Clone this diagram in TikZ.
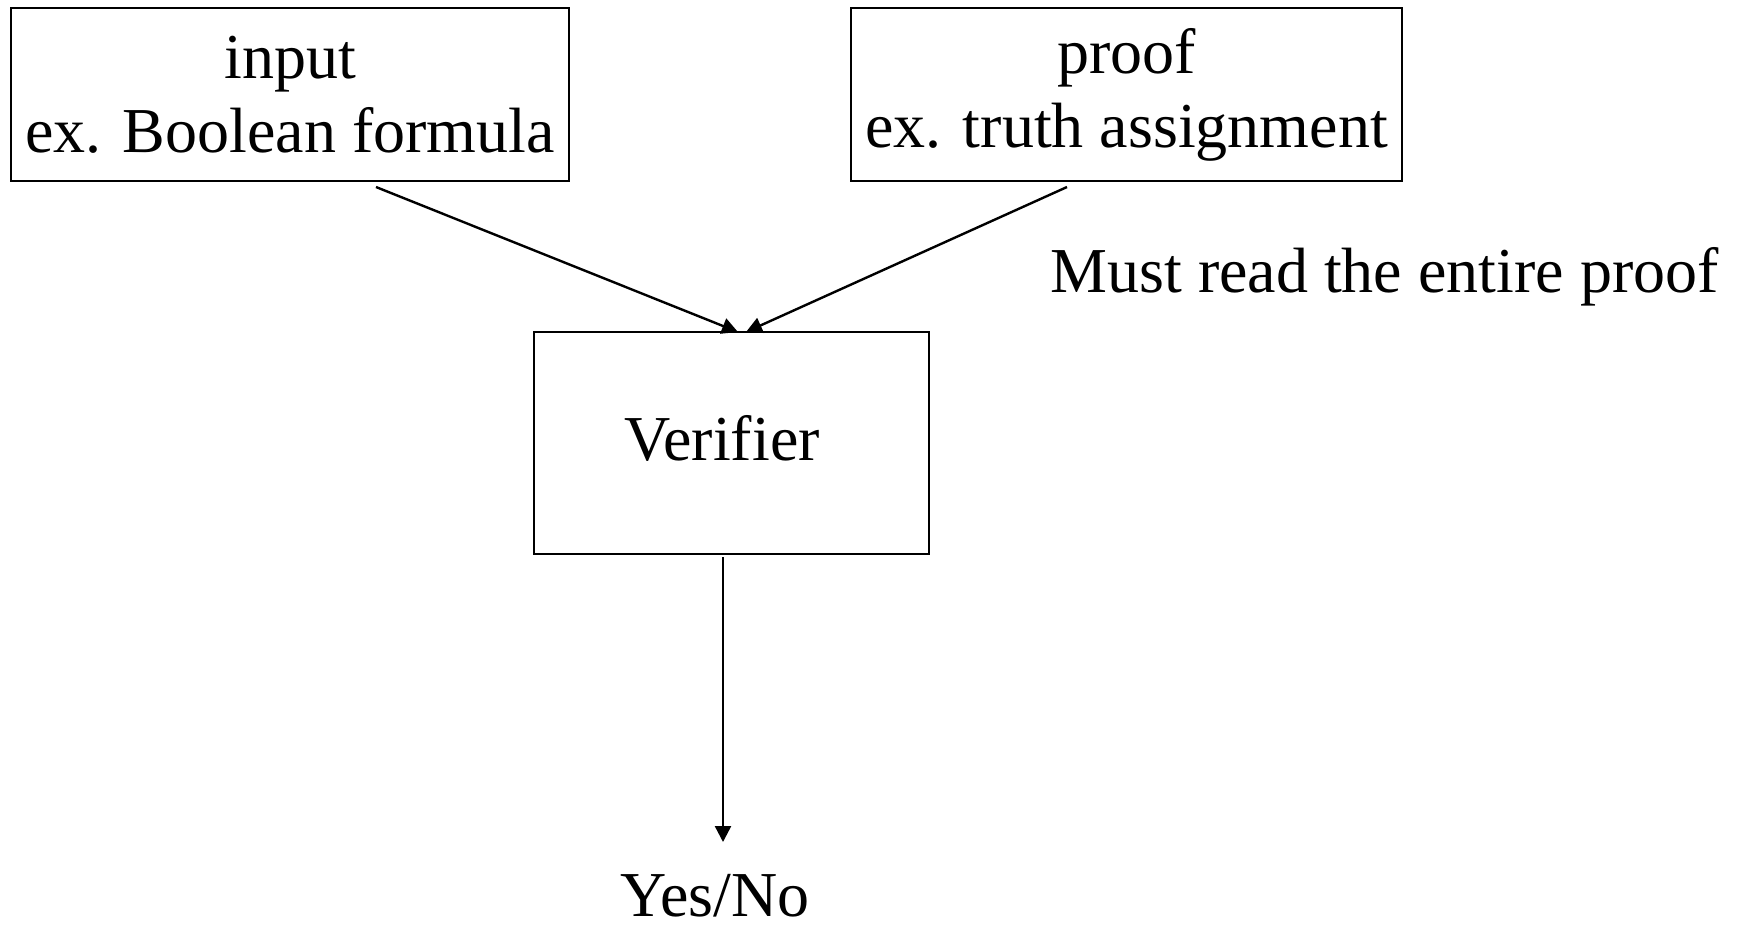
\documentclass[tikz,border=0pt]{standalone}
\usepackage{fontspec}
\setmainfont{Liberation Serif}
\usetikzlibrary{arrows.meta}
\tikzset{
  box/.style={draw, line width=1.2pt, inner sep=0pt, align=center,
    font=\fontsize{32}{37}\selectfont},
  lbl/.style={inner sep=0pt, font=\fontsize{32}{37}\selectfont},
  conn/.style={line width=1.2pt, -{Triangle[length=8pt,width=8pt]}}
}
\begin{document}
\begin{tikzpicture}[x=0.5pt,y=-0.5pt]
\path[use as bounding box] (0,0) rectangle (1743,927);
\node[box, minimum width=279pt, minimum height=86.5pt] (inp) at (290,94.5) {input\\ex. Boolean formula};
\node[box, minimum width=275.5pt, minimum height=86.5pt] (prf) at (1126.5,94.5) {proof\\ex. truth assignment};
\node[box, minimum width=197.5pt, minimum height=111pt] (ver) at (731.5,443) {};
\node[lbl] (vtxt) at (722,438) {Verifier};
\node[lbl, anchor=base west] (must) at (1050,292) {Must read the entire proof};
\node[lbl, anchor=base] (yn) at (715,916) {Yes/No};
\coordinate (s1) at (376,187);
\coordinate (s2) at (1067,187);
\coordinate (e1) at (738,332);
\coordinate (e2) at (746,332);
\coordinate (s3) at (723,557);
\coordinate (e3) at (723,842);
\draw[conn] (s1) -- (e1);
\draw[conn] (s2) -- (e2);
\draw[conn] (s3) -- (e3);
\end{tikzpicture}
\end{document}
